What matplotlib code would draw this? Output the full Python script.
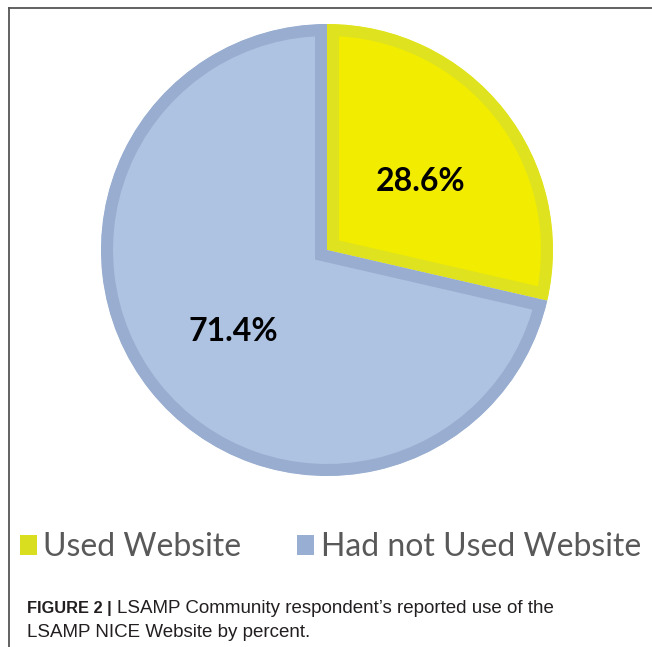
import numpy as np
import matplotlib
matplotlib.use("Agg")
import matplotlib.pyplot as plt
import matplotlib.transforms as mtransforms
from matplotlib.patches import Patch
from matplotlib.lines import Line2D

# data
labels = ["Used Website", "Had not Used Website"]
shares = [28.6, 71.4]
fill_colors = ["#f2ec00", "#aec3e2"]
edge_colors = ["#dfe31f", "#98adcf"]

W, H, DPI = 652, 647, 100
fig = plt.figure(figsize=(W / DPI, H / DPI), dpi=DPI)

# pie axes: centre (327, 250) px, radius 226 px
cx, cy, r = 327, 250, 226
ax = fig.add_axes([(cx - r) / W, (H - cy - r) / H, 2 * r / W, 2 * r / H])
wedges, texts, autotexts = ax.pie(
    shares, colors=fill_colors, startangle=90, counterclock=False,
    autopct="%.1f%%", pctdistance=0.53, radius=1,
    textprops=dict(family="Lato", fontweight="bold", fontsize=23, color="black"),
)
# inner border: double-width edge clipped to the wedge itself
border_pt = 2 * 12 * 72 / DPI
for w, ec in zip(wedges, edge_colors):
    w.set_edgecolor(ec)
    w.set_linewidth(border_pt)
    w.set_clip_on(True)
    w.set_clip_path(w)
nudge = mtransforms.ScaledTranslation(0, -4 / DPI, fig.dpi_scale_trans)
for t in autotexts:
    t.set_va("center_baseline")
    t.set_transform(t.get_transform() + nudge)
ax.set_xlim(-1, 1)
ax.set_ylim(-1, 1)
ax.set_aspect("equal")
ax.axis("off")

# legend
handles = [Patch(facecolor=c, edgecolor="none") for c in ["#d9df1f", "#98aed2"]]
leg = fig.legend(handles, labels, ncol=2, loc="center left",
                 bbox_to_anchor=(20 / W, 1 - 547 / H), frameon=False,
                 prop=dict(family="Lato", size=23), labelcolor="#595959",
                 handlelength=0.53, handleheight=0.6, handletextpad=0.2,
                 columnspacing=1.75, borderpad=0, borderaxespad=0)

# caption
cap_y1 = 1 - 613 / H
bold = fig.text(27 / W, cap_y1, "FIGURE 2 |", family="Liberation Sans",
                fontweight="bold", fontsize=11.8, color="#231f20", va="baseline")
fig.canvas.draw()
x_reg = bold.get_window_extent().x1 + 5
fig.text(x_reg / W, cap_y1, "LSAMP Community respondent\u2019s reported use of the",
         family="Liberation Sans", fontsize=13.5, color="#231f20", va="baseline")
fig.text(27 / W, 1 - 637 / H, "LSAMP NICE Website by percent.",
         family="Liberation Sans", fontsize=13.5, color="#231f20", va="baseline")

# frame lines
fig.add_artist(Line2D([9 / W, 9 / W], [0, 1 - 8 / H], transform=fig.transFigure,
                      color="#555555", lw=1.3))
fig.add_artist(Line2D([9 / W, 1], [1 - 8 / H, 1 - 8 / H], transform=fig.transFigure,
                      color="#555555", lw=1.3))

fig.savefig("out.png", dpi=DPI)
